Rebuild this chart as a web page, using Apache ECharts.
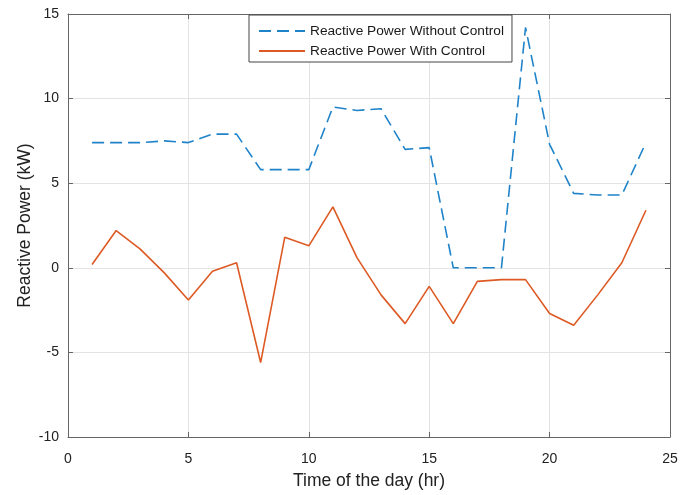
<!DOCTYPE html>
<html><head><meta charset="utf-8">
<script src="https://cdn.jsdelivr.net/npm/echarts@6/dist/echarts.min.js"></script>
<style>html,body{margin:0;padding:0;background:#fff}#c{width:693px;height:495px}</style>
</head><body><div id="c"></div>
<script>
const hours = [1,2,3,4,5,6,7,8,9,10,11,12,13,14,15,16,17,18,19,20,21,22,23,24];
const withoutControl = [7.4,7.4,7.4,7.5,7.4,7.9,7.9,5.8,5.8,5.8,9.5,9.3,9.4,7.0,7.1,0,0,0,14.2,7.3,4.4,4.3,4.3,7.4];
const withControl = [0.2,2.2,1.1,-0.3,-1.9,-0.2,0.3,-5.6,1.8,1.3,3.6,0.6,-1.6,-3.3,-1.1,-3.3,-0.8,-0.7,-0.7,-2.7,-3.4,-1.6,0.3,3.4];
const seriesNames = ['Reactive Power Without Control','Reactive Power With Control'];
const xTitle = 'Time of the day (hr)';
const yTitle = 'Reactive Power (kW)';

const font = '"Liberation Sans", Arial, sans-serif';
const axisColor = '#666';
const chart = echarts.init(document.getElementById('c'));
const hiddenAxis = {
  axisLine:{show:true,onZero:false,lineStyle:{color:axisColor,width:1}},
  axisTick:{show:true,inside:true,length:5,lineStyle:{color:axisColor}},
  axisLabel:{show:false}, splitLine:{show:false}
};
chart.setOption({
  animation:false,
  grid:{left:68,right:23,top:14,bottom:58,containLabel:false,outerBoundsMode:'none'},
  legend:{
    top:15,left:249,orient:'vertical',
    backgroundColor:'#fff',borderColor:'#444',borderWidth:1,
    padding:[9,8,4,9],itemGap:6,itemWidth:46,itemHeight:12,
    itemStyle:{opacity:0},
    textStyle:{fontFamily:font,fontSize:13.7,color:'#1a1a1a'},
    data:[seriesNames[0],seriesNames[1]]
  },
  xAxis:[{
    type:'value',min:0,max:25,interval:5,
    name:xTitle,nameLocation:'middle',nameGap:35,nameMoveOverlap:false,
    nameTextStyle:{fontFamily:font,fontSize:17.5,color:'#222'},
    axisLine:{show:true,onZero:false,lineStyle:{color:axisColor}},
    axisTick:{show:true,inside:true,length:5,lineStyle:{color:axisColor}},
    axisLabel:{fontFamily:font,fontSize:14,color:'#222',margin:15},
    splitLine:{show:true,lineStyle:{color:'#e3e3e3'}}
  },{type:'value',position:'top',min:0,max:25,interval:5,...hiddenAxis}],
  yAxis:[{
    type:'value',min:-10,max:15,interval:5,
    name:yTitle,nameLocation:'middle',nameGap:34,nameMoveOverlap:false,
    nameTextStyle:{fontFamily:font,fontSize:17.5,color:'#222'},
    axisLine:{show:true,onZero:false,lineStyle:{color:axisColor}},
    axisTick:{show:true,inside:true,length:5,lineStyle:{color:axisColor}},
    axisLabel:{fontFamily:font,fontSize:14,color:'#222',margin:9},
    splitLine:{show:true,lineStyle:{color:'#e3e3e3'}}
  },{type:'value',position:'right',min:-10,max:15,interval:5,...hiddenAxis}],
  series:[
    {name:seriesNames[0],type:'line',data:hours.map((h,i)=>[h,withoutControl[i]]),
     showSymbol:false,symbol:'none',color:'#1f83c9',
     lineStyle:{color:'#1f83c9',width:1.6,type:[12,6]}},
    {name:seriesNames[1],type:'line',data:hours.map((h,i)=>[h,withControl[i]]),
     showSymbol:false,symbol:'none',color:'#dd5a24',
     lineStyle:{color:'#dd5a24',width:1.6}}
  ]
});
</script></body></html>
